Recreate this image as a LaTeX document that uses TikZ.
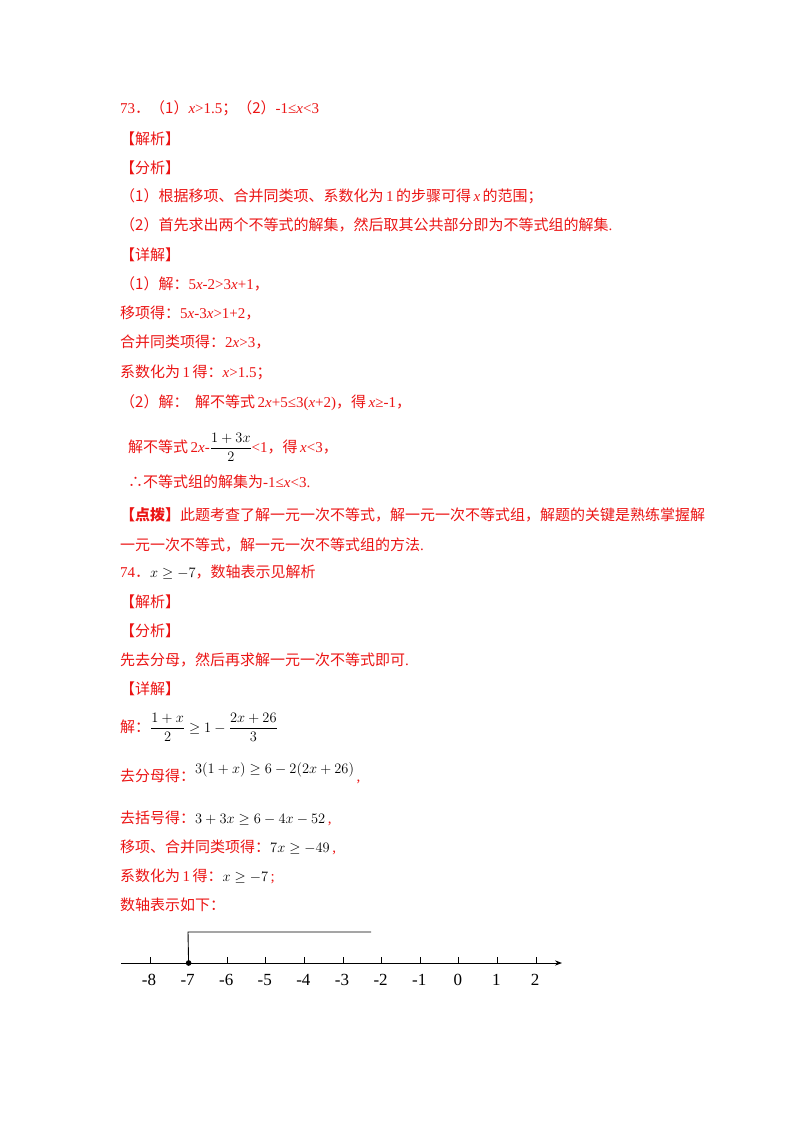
\documentclass[tikz,border=0pt]{standalone}
\usepackage{amsmath}
\usepackage{fontspec}
\usetikzlibrary{arrows.meta}
\setmainfont{Liberation Serif}
\newfontfamily\cjk{Noto Sans CJK SC}
\definecolor{ans}{RGB}{235,20,20}
\begin{document}
\begin{tikzpicture}[x=1pt,y=-1pt,
  ln/.style={anchor=base west,inner sep=0pt,text=ans,font=\fontsize{15}{16}\selectfont},
  tk/.style={line width=0.9pt},
  lab/.style={anchor=center,inner sep=0pt,font=\fontsize{17}{18}\selectfont}]
\useasboundingbox (0,0) rectangle (800,1132);
\newcommand{\C}[1]{{\cjk #1}}
\node[ln] (l1) at (120,113) {73\C{．（1）}\textit{x}>1.5\C{；（2）}-1≤\textit{x}<3};
\node[ln] (l2) at (120,144) {\C{【解析】}};
\node[ln] (l3) at (120,173) {\C{【分析】}};
\node[ln] (l4) at (120,201) {\C{（1）根据移项、合并同类项、系数化为}\,1\,\C{的步骤可得}\,\textit{x}\,\C{的范围；}};
\node[ln] (l5) at (120,230) {\C{（2）首先求出两个不等式的解集，然后取其公共部分即为不等式组的解集}.};
\node[ln] (l6) at (120,260) {\C{【详解】}};
\node[ln] (l7) at (120,289) {\C{（1）解：}5\textit{x}-2>3\textit{x}+1\C{，}};
\node[ln] (l8) at (120,318) {\C{移项得：}5\textit{x}-3\textit{x}>1+2\C{，}};
\node[ln] (l9) at (120,347) {\C{合并同类项得：}2\textit{x}>3\C{，}};
\node[ln] (l10) at (120,377) {\C{系数化为}\,1\,\C{得：}\textit{x}>1.5\C{；}};
\node[ln] (l11) at (120,407) {\C{（2）解：\ \ 解不等式}\,2\textit{x}+5≤3(\textit{x}+2)\C{，得}\,\textit{x}≥-1\C{，}};
\node[ln] (l12) at (128,452) {\C{解不等式}\,2\textit{x}-\textcolor{black}{$\dfrac{1+3x}{2}$}<1\C{，得}\,\textit{x}<3\C{，}};
\node[ln] (l13) at (128,487) {\C{∴不等式组的解集为}-1≤\textit{x}<3.};
\node[ln] (l14) at (120,520) {\C{\textbf{【点拨】}此题考查了解一元一次不等式，解一元一次不等式组，解题的关键是熟练掌握解}};
\node[ln] (l15) at (120,550) {\C{一元一次不等式，解一元一次不等式组的方法}.};
\node[ln] (l16) at (120,577) {74\C{．}\textcolor{black}{$x\geq -7$}\C{，数轴表示见解析}};
\node[ln] (l17) at (120,607) {\C{【解析】}};
\node[ln] (l18) at (120,636) {\C{【分析】}};
\node[ln] (l19) at (120,665) {\C{先去分母，然后再求解一元一次不等式即可}.};
\node[ln] (l20) at (120,694) {\C{【详解】}};
\node[ln] (l21) at (120,732) {\C{解：}\textcolor{black}{$\dfrac{1+x}{2}\geq 1-\dfrac{2x+26}{3}$}};
\node[ln] (l22) at (120,781) {\C{去分母得：}\raisebox{8pt}{\textcolor{black}{$3(1+x)\geq 6-2(2x+26)$}}\,,};
\node[ln] (l23) at (120,823) {\C{去括号得：}\textcolor{black}{$3+3x\geq 6-4x-52$}\,,};
\node[ln] (l24) at (120,852) {\C{移项、合并同类项得：}\textcolor{black}{$7x\geq -49$}\,,};
\node[ln] (l25) at (120,881) {\C{系数化为}\,1\,\C{得：}\textcolor{black}{$x\geq -7$}\,;};
\node[ln] (l26) at (120,910) {\C{数轴表示如下：}};
% number line
\coordinate (a0) at (121,963);
\coordinate (a1) at (562,963);
\draw[tk,-{Stealth[length=7pt]}] (a0) -- (a1);
\foreach \v [count=\i from 0] in {-8,-7,-6,-5,-4,-3,-2,-1,0,1,2}{
  \coordinate (t\i) at ({150+38.6*\i},963);
  \draw[tk] (t\i) -- ++(0,-6);
  \node[lab] (n\i) at ({150+38.6*\i-1},980) {\v};
}
\coordinate (s1) at (188,932);
\coordinate (s2) at (371,932);
\draw[tk] (t1) -- (s1) -- (s2);
\fill (t1) circle (2.8pt);
\end{tikzpicture}
\end{document}
